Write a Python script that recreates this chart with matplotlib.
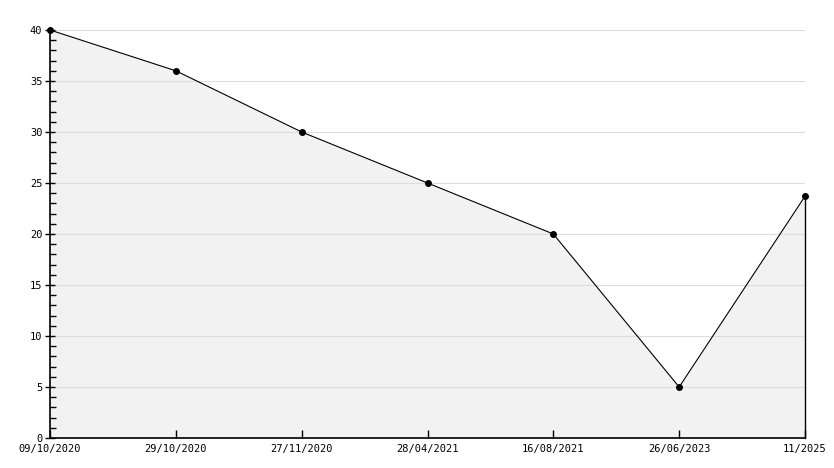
import matplotlib
matplotlib.use("Agg")
import matplotlib.pyplot as plt
from matplotlib.ticker import MultipleLocator

labels = ["09/10/2020", "29/10/2020", "27/11/2020", "28/04/2021",
          "16/08/2021", "26/06/2023", "11/2025"]
values = [40, 36, 30, 25, 20, 5, 23.7]

plt.rcParams['font.family'] = ['DejaVu Sans Mono']

fig = plt.figure(figsize=(8.34, 4.68), dpi=100)
ax = fig.add_axes([50 / 834, 30 / 468, 755 / 834, 408 / 468])

x = list(range(len(values)))
ax.fill_between(x, values, 0, color="#f2f2f2", linewidth=0)
for yv in range(5, 45, 5):
    ax.axhline(yv, color="#dddddd", linewidth=0.8, zorder=1)
ax.plot([x[-1], x[-1]], [0, values[-1]], color="black", linewidth=1.0,
        clip_on=False, zorder=3)
ax.plot(x, values, color="black", linewidth=0.8, marker="o", markersize=4,
        markerfacecolor="black", markeredgecolor="black", clip_on=False, zorder=4)

ax.set_xlim(0, len(values) - 1)
ax.set_ylim(0, 40)
ax.set_xticks(x)
ax.set_xticklabels(labels)
ax.yaxis.set_major_locator(MultipleLocator(5))
ax.yaxis.set_minor_locator(MultipleLocator(1))

for s in ["top", "right"]:
    ax.spines[s].set_visible(False)
ax.spines["left"].set_linewidth(1.2)
ax.spines["bottom"].set_linewidth(1.2)

ax.tick_params(axis="y", which="major", direction="inout", length=7, width=1, labelsize=7.5, pad=2)
ax.tick_params(axis="y", which="minor", direction="in", length=4, width=1)
ax.tick_params(axis="x", which="major", direction="in", length=6, width=1, labelsize=7.5, pad=4)

fig.savefig("out.png", dpi=100)
